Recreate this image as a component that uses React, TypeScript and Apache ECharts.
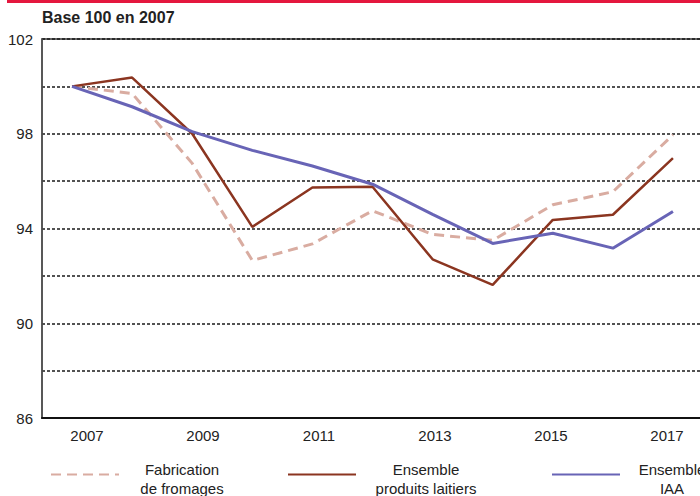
import React, { useEffect, useRef } from "react";
import * as echarts from "echarts";

const years = [2007, 2008, 2009, 2010, 2011, 2012, 2013, 2014, 2015, 2016, 2017];
const fromages = [100, 99.7, 96.75, 92.65, 93.35, 94.75, 93.75, 93.5, 95.0, 95.55, 97.95];
const produitsLaitiers = [100, 100.37, 98.0, 94.07, 95.73, 95.76, 92.7, 91.62, 94.36, 94.58, 96.97];
const iaa = [100, 99.14, 98.09, 97.3, 96.64, 95.87, 94.6, 93.37, 93.8, 93.17, 94.72];
const yearLabels = [2007, 2009, 2011, 2013, 2015, 2017];
const seriesNames = ["Fabrication de fromages", "Ensemble produits laitiers", "Ensemble IAA"];
const legendLines: Record<string, string[]> = {
  "Fabrication de fromages": ["Fabrication", "de fromages"],
  "Ensemble produits laitiers": ["Ensemble", "produits laitiers"],
  "Ensemble IAA": ["Ensemble", "IAA"],
};

const FONT = "'Liberation Sans', Arial, sans-serif";

export default function App() {
  const ref = useRef<HTMLDivElement>(null);
  useEffect(() => {
    if (!ref.current) return;
    const chart = echarts.init(ref.current, null, { renderer: "svg" });
    const pair = (arr: number[]) => arr.map((v, i) => [years[i], v]);
    const mkLegend = (name: string, left: number, w: number) => ({
      data: [name],
      left,
      top: 462,
      padding: 0,
      itemWidth: 68,
      itemHeight: 12,
      selectedMode: false,
      itemStyle: { opacity: 0 },
      formatter: (n: string) => legendLines[n].map((s) => `{a|${s}}`).join("\n"),
      textStyle: {
        padding: [9, 0, 0, 0],
        rich: {
          a: { width: w, align: "center", fontSize: 15, lineHeight: 19, color: "#222", fontFamily: FONT },
        },
      },
    });
    chart.setOption({
      animation: false,
      backgroundColor: "#fff",
      textStyle: { fontFamily: FONT },
      grid: {
        left: 42,
        top: 39,
        width: 661,
        height: 379,
        show: true,
        borderColor: "#333",
        borderWidth: 1.5,
        backgroundColor: "transparent",
      },
      graphic: [
        { type: "rect", left: 7, top: 0, shape: { width: 760, height: 3 }, style: { fill: "#e4173e" } },
        {
          type: "text",
          left: 42,
          top: 9,
          style: { text: "Base 100 en 2007", font: `bold 16px ${FONT}`, fill: "#222" },
        },
      ],
      legend: [
        mkLegend(seriesNames[0], 50, 116),
        mkLegend(seriesNames[1], 287, 130),
        mkLegend(seriesNames[2], 551, 94),
      ],
      xAxis: [
        {
          type: "value",
          min: 2006.5,
          max: 2017.5,
          position: "bottom",
          axisLine: { show: true, lineStyle: { color: "#111", width: 2 } },
          axisTick: { show: false },
          axisLabel: { show: false },
          splitLine: { show: false },
        },
        {
          type: "value",
          min: 2006.224,
          max: 2017.621,
          position: "bottom",
          axisLine: { show: false },
          axisTick: { show: false },
          splitLine: { show: false },
          axisLabel: {
            customValues: yearLabels,
            fontSize: 15,
            color: "#222",
            margin: 10,
            formatter: (v: number) => String(Math.round(v)),
          },
        },
      ],
      yAxis: {
        type: "value",
        min: 86,
        max: 102,
        interval: 2,
        axisLine: { show: true, lineStyle: { color: "#555", width: 1.5 } },
        axisTick: { show: false },
        axisLabel: {
          fontSize: 15,
          color: "#222",
          margin: 9,
          formatter: (v: number) => ((v - 86) % 4 === 0 ? String(v) : ""),
        },
        splitLine: { show: true, lineStyle: { color: "#1a1a1a", width: 1.6, type: [3, 2] } },
      },
      series: [
        {
          name: seriesNames[0],
          type: "line",
          xAxisIndex: 0,
          symbol: "none",
          data: pair(fromages),
          lineStyle: { color: "#d9aca1", width: 3, type: [10, 6] },
          itemStyle: { color: "#d9aca1" },
        },
        {
          name: seriesNames[1],
          type: "line",
          xAxisIndex: 0,
          symbol: "none",
          data: pair(produitsLaitiers),
          lineStyle: { color: "#8b3520", width: 2.5 },
          itemStyle: { color: "#8b3520" },
        },
        {
          name: seriesNames[2],
          type: "line",
          xAxisIndex: 0,
          symbol: "none",
          data: pair(iaa),
          lineStyle: { color: "#6864b6", width: 3 },
          itemStyle: { color: "#6864b6" },
        },
      ],
    });
    return () => chart.dispose();
  }, []);
  return (
    <div style={{ position: "absolute", left: 0, top: 0, width: 700, height: 496, overflow: "hidden", background: "#fff" }}>
      <div ref={ref} style={{ width: 760, height: 496 }} />
    </div>
  );
}
